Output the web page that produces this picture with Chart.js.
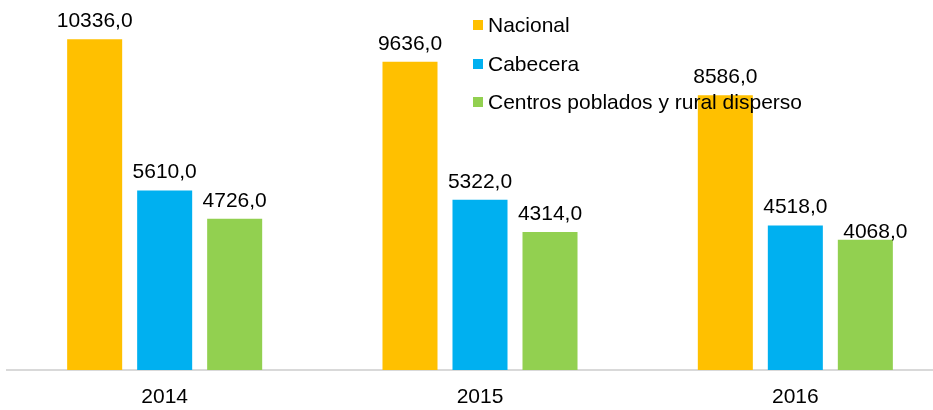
<!DOCTYPE html>
<html>
<head>
<meta charset="utf-8">
<script src="https://cdn.jsdelivr.net/npm/chart.js@4"></script>
<style>
    html, body { margin: 0; padding: 0; background: #fff; overflow: hidden; }
    .chart { position: relative; width: 960px; height: 410px; }
</style>
</head>
<body>
<div class="chart"><canvas id="barChart"></canvas></div>
<script>
const years = ['2014', '2015', '2016'];
const series_names = ['Nacional', 'Cabecera', 'Centros poblados y rural disperso'];

const nacional  = [10336, 9636, 8586];
const cabecera  = [5610, 5322, 4518];
const centros   = [4726, 4314, 4068];

const color_lst = ['#FFC000', '#00B0F0', '#92D050'];

const font_name = "'Liberation Sans', Arial, sans-serif";

// valores con coma decimal, como en el original
function fmt(v) {
    return v.toFixed(1).replace('.', ',');
}

// etiquetas encima de cada barra
const valueLabels = {
    id: 'valueLabels',
    afterDatasetsDraw(chart) {
        const ctx = chart.ctx;
        ctx.save();
        ctx.font = '21px ' + font_name;
        ctx.fillStyle = '#000';
        ctx.textAlign = 'center';
        ctx.textBaseline = 'alphabetic';
        chart.data.datasets.forEach((ds, i) => {
            chart.getDatasetMeta(i).data.forEach((bar, j) => {
                let dx = 0, dy = 0;
                // la ultima etiqueta verde esta algo desplazada en el original
                if (i === 2 && j === 2) { dx = 10; dy = 10; }
                ctx.fillText(fmt(ds.data[j]), bar.x + dx, bar.y - 12 + dy);
            });
        });
        ctx.restore();
    }
};

// leyenda vertical dibujada encima de las barras
const sideLegend = {
    id: 'sideLegend',
    afterDatasetsDraw(chart) {
        const ctx = chart.ctx;
        ctx.save();
        ctx.font = '21px ' + font_name;
        ctx.textAlign = 'left';
        ctx.textBaseline = 'alphabetic';
        const tops = [20, 59, 97];
        chart.data.datasets.forEach((ds, i) => {
            ctx.fillStyle = ds.backgroundColor;
            ctx.fillRect(473, tops[i], 10, 10);
            ctx.fillStyle = '#000';
            ctx.fillText(ds.label, 488, tops[i] + 12);
        });
        ctx.restore();
    }
};

const data_list = [nacional, cabecera, centros];
let datasets = [];
for (let i = 0; i < series_names.length; i++) {
    datasets.push({
        label: series_names[i],
        data: data_list[i],
        backgroundColor: color_lst[i],
        borderWidth: 0,
        categoryPercentage: 0.666,
        barPercentage: 0.786
    });
}

const config = {
    type: 'bar',
    data: { labels: years, datasets: datasets },
    options: {
        responsive: false,
        animation: false,
        layout: { padding: { top: 2, left: 7, right: 7, bottom: 0 } },
        plugins: {
            legend: { display: false },
            tooltip: { enabled: false }
        },
        scales: {
            x: {
                grid: { display: false },
                border: { display: true, color: '#D9D9D9', width: 2 },
                ticks: { color: '#000', font: { family: font_name, size: 21 }, padding: 7 },
                afterFit(scale) { scale.height = 40; }
            },
            y: {
                display: false,
                min: 0,
                max: 11500
            }
        }
    },
    plugins: [valueLabels, sideLegend]
};

const canvas = document.querySelector('#barChart');
canvas.width = 960;
canvas.height = 410;
new Chart(canvas.getContext('2d'), config);
</script>
</body>
</html>
